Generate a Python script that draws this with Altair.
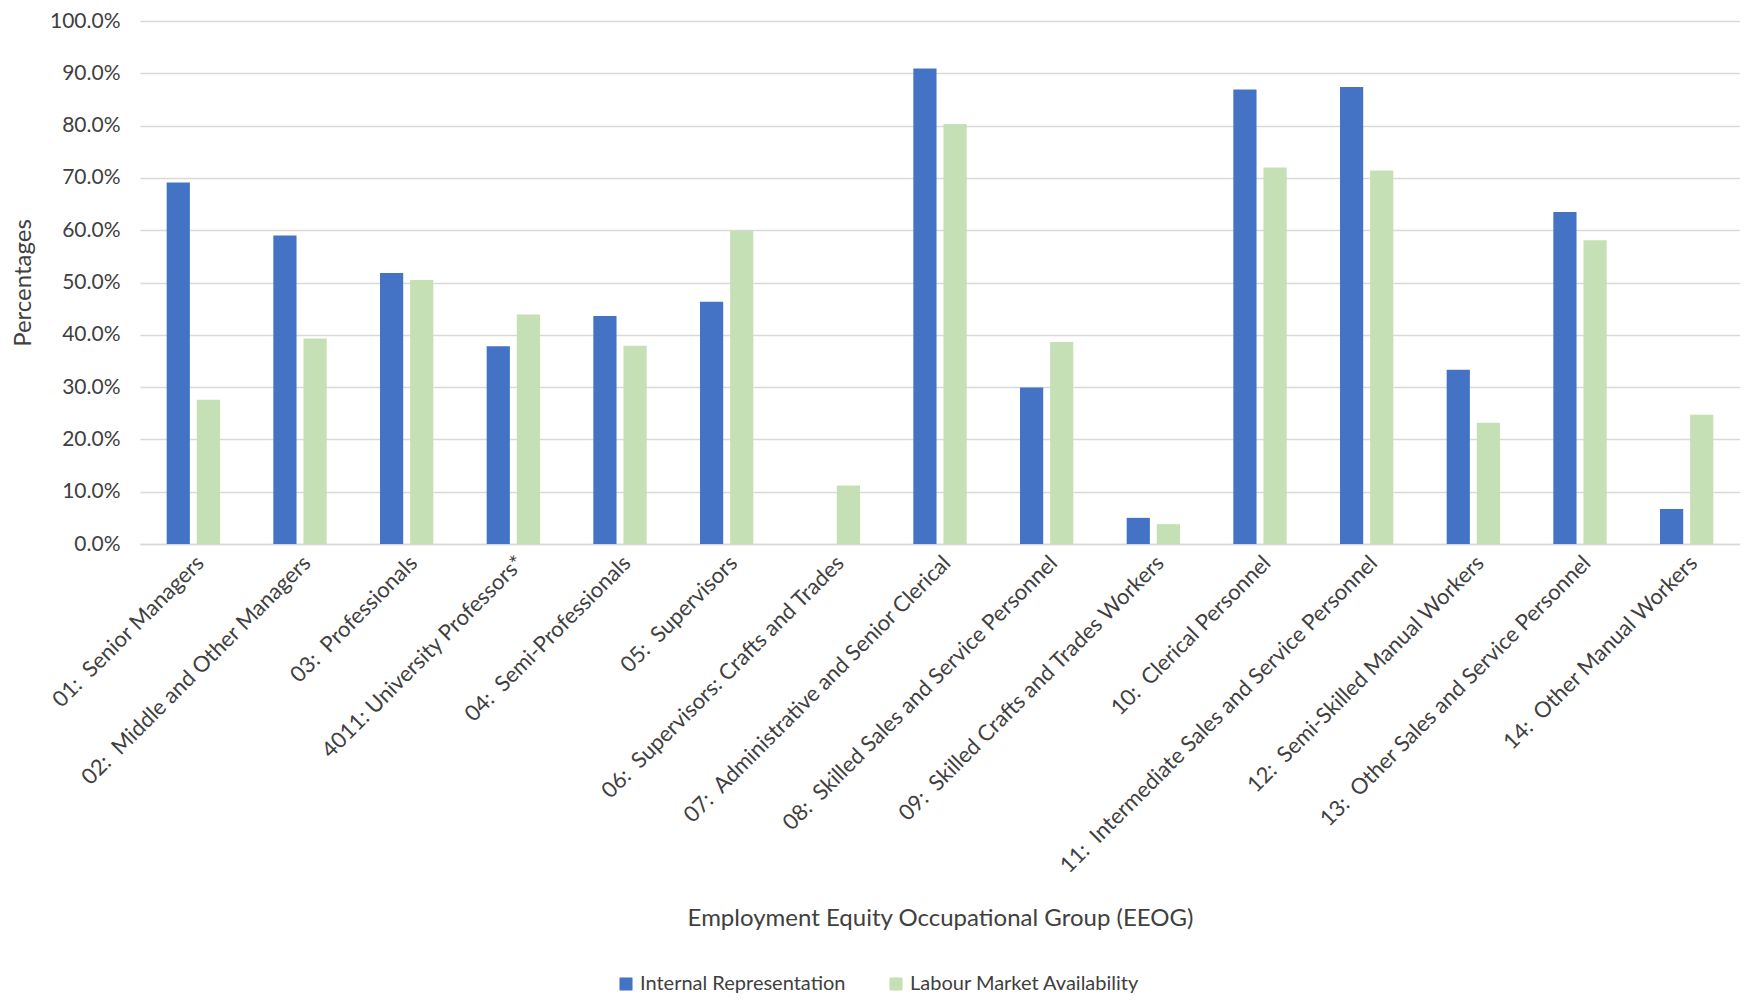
import altair as alt
import pandas as pd

categories = [
    "01:  Senior Managers",
    "02:  Middle and Other Managers",
    "03:  Professionals",
    "4011: University Professors*",
    "04:  Semi-Professionals",
    "05:  Supervisors",
    "06:  Supervisors: Crafts and Trades",
    "07:  Administrative and Senior Clerical",
    "08:  Skilled Sales and Service Personnel",
    "09:  Skilled Crafts and Trades Workers",
    "10:  Clerical Personnel",
    "11:  Intermediate Sales and Service Personnel",
    "12:  Semi-Skilled Manual Workers",
    "13:  Other Sales and Service Personnel",
    "14:  Other Manual Workers",
]
internal = [69.1, 59.0, 51.8, 37.8, 43.6, 46.3, 0.0, 90.9, 29.9, 5.0, 86.9, 87.4, 33.3, 63.5, 6.7]
lma = [27.6, 39.3, 50.5, 43.9, 37.9, 59.9, 11.2, 80.3, 38.6, 3.8, 72.0, 71.4, 23.2, 58.1, 24.7]
series = ["Internal Representation", "Labour Market Availability"]
colors = ["#4472C4", "#C5E0B4"]
y_ticks = [0, 10, 20, 30, 40, 50, 60, 70, 80, 90, 100]

rows = []
for c, a, b in zip(categories, internal, lma):
    rows.append({"category": c, "series": series[0], "value": a})
    rows.append({"category": c, "series": series[1], "value": b})
df = pd.DataFrame(rows)

FONT = "Lato"
TXT = "#404040"
NB = "\u00a0\u00a0"

chart = (
    alt.Chart(df)
    .mark_bar()
    .encode(
        x=alt.X(
            "category:N",
            sort=categories,
            title="Employment Equity Occupational Group (EEOG)",
            scale=alt.Scale(paddingInner=0.5, paddingOuter=0.25),
            axis=alt.Axis(
                labelAngle=-45,
                labelExpr="replace(datum.label, '  ', '" + NB + "')",
                labelFontSize=22,
                labelColor=TXT,
                labelFont=FONT,
                labelPadding=8,
                labelLimit=800,
                ticks=False,
                domainColor="#D9D9D9",
                domainWidth=1.5,
                titleFontSize=24,
                titleFont=FONT,
                titleColor=TXT,
                titleFontWeight="normal",
                titleBaseline="middle",
                titleY=374,
            ),
        ),
        xOffset=alt.XOffset("series:N", sort=series, scale=alt.Scale(paddingInner=0.23)),
        y=alt.Y(
            "value:Q",
            title="Percentages",
            scale=alt.Scale(domain=[0, 100], nice=False),
            axis=alt.Axis(
                values=y_ticks,
                labelExpr="format(datum.value, '.1f') + '%'",
                labelFontSize=21,
                labelColor=TXT,
                labelFont=FONT,
                labelPadding=20,
                ticks=False,
                domain=False,
                gridColor="#D9D9D9",
                gridWidth=1.5,
                titleFontSize=24,
                titleFont=FONT,
                titleColor=TXT,
                titleFontWeight="normal",
                titlePadding=14,
            ),
        ),
        color=alt.Color(
            "series:N",
            sort=series,
            scale=alt.Scale(domain=series, range=colors),
            legend=alt.Legend(
                orient="none",
                legendX=476,
                legendY=953,
                direction="horizontal",
                title=None,
                symbolType="square",
                symbolSize=170,
                symbolStrokeWidth=0,
                labelFontSize=20,
                labelFont=FONT,
                labelColor=TXT,
                labelLimit=400,
                columnPadding=40,
            ),
        ),
    )
    .properties(width=1600, height=523, padding={"left": 3, "top": 2, "right": 0, "bottom": 0})
    .configure_view(stroke=None)
)

chart.save("out.html", embed_options={"renderer": "svg", "actions": False})
